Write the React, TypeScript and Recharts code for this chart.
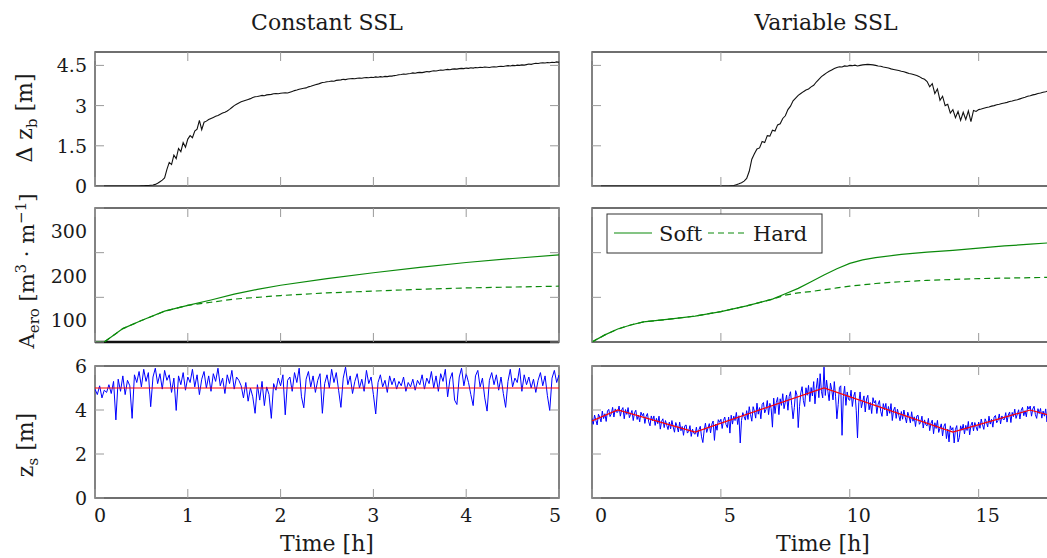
import { LineChart, Line, XAxis, YAxis, ReferenceArea, ReferenceLine } from "recharts";
import type { ReactNode } from "react";

// sampling of the simulation output (hours between samples)
const CONST_STEP = 0.025;
const VAR_STEP = 0.1;
const VAR_ZS_STEP = 0.05;

// bed level change, constant SSL run (0..5 h)
const constDzb = [
  0, 0, 0, 0, 0, 0, 0, 0, 0, 0, 0, 0, 0, 0, 0, 0, 0, 0, 0, 0,
  0.01, 0.01, 0.02, 0.02, 0.03, 0.04, 0.06, 0.1, 0.16, 0.22,
  0.3, 0.62, 0.88, 0.8, 1.15, 1.02, 1.4, 1.28, 1.62, 1.45,
  1.75, 1.88, 1.8, 2.05, 2.12, 2.45, 2.1, 2.38, 2.42, 2.48,
  2.52, 2.56, 2.6, 2.63, 2.68, 2.72, 2.75, 2.8, 2.86, 2.93,
  3.0, 3.05, 3.1, 3.14, 3.17, 3.2, 3.23, 3.26, 3.3, 3.33,
  3.34, 3.36, 3.38, 3.37, 3.4, 3.41, 3.42, 3.44, 3.45, 3.44,
  3.46, 3.47, 3.48, 3.47, 3.5, 3.53, 3.56, 3.58, 3.61, 3.63,
  3.65, 3.66, 3.7, 3.72, 3.75, 3.78, 3.8, 3.83, 3.86, 3.87,
  3.89, 3.9, 3.92, 3.91, 3.94, 3.95, 3.96, 3.98, 3.97, 3.99,
  4.0, 4.01, 4.0, 4.02, 4.03, 4.02, 4.04, 4.05, 4.04, 4.06,
  4.05, 4.07, 4.06, 4.08, 4.07, 4.09, 4.08, 4.1, 4.1, 4.12,
  4.13, 4.15, 4.16, 4.18, 4.17, 4.19, 4.2, 4.22, 4.21, 4.23,
  4.24, 4.23, 4.25, 4.27, 4.26, 4.28, 4.3, 4.29, 4.31, 4.33,
  4.32, 4.34, 4.35, 4.34, 4.36, 4.37, 4.36, 4.38, 4.39, 4.38,
  4.4, 4.39, 4.41, 4.4, 4.42, 4.41, 4.43, 4.42, 4.44, 4.43,
  4.42, 4.44, 4.45, 4.44, 4.46, 4.47, 4.46, 4.48, 4.49, 4.48,
  4.5, 4.49, 4.51, 4.5, 4.52, 4.51, 4.53, 4.55, 4.54, 4.56,
  4.58, 4.57, 4.59, 4.6, 4.59, 4.61, 4.6, 4.62, 4.61, 4.63,
  4.62,
];

// water surface, constant SSL run
const constZs = [
  4.95, 4.7, 5.1, 4.55, 4.9, 4.8, 5.15, 4.75, 5.3, 3.55,
  5.4, 4.85, 5.55, 4.7, 5.35, 5.1, 3.62, 5.6, 5.25, 5.75,
  5.05, 5.85, 5.3, 5.7, 4.15, 5.5, 5.9, 5.2, 5.65, 4.95,
  5.8, 5.35, 5.6, 4.8, 5.45, 3.98, 5.55, 5.15, 5.7, 4.9,
  5.5, 5.25, 5.85, 5.05, 5.6, 4.7, 5.4, 5.75, 5.0, 5.55,
  4.85, 5.65, 5.3, 5.9, 5.1, 5.45, 4.75, 5.6, 5.2, 5.8,
  4.95, 5.5, 5.35, 5.1, 4.55, 5.25, 4.4, 5.0, 4.6, 3.85,
  5.15, 4.45, 5.3, 4.2, 5.05, 4.7, 3.62, 5.2, 4.9, 5.45,
  5.1, 5.6, 3.78, 5.35, 5.5, 4.85, 5.7, 5.25, 5.9, 4.6,
  4.1, 5.4, 5.75, 5.05, 5.55, 4.8, 5.35, 5.65, 3.85, 5.2,
  5.6, 5.0, 5.85, 5.25, 5.7, 4.9, 4.12, 5.45, 5.95, 5.15,
  5.55, 4.75, 5.3, 5.65, 5.0, 5.4, 4.85, 5.8, 5.2, 5.5,
  4.7, 3.82, 5.25, 5.6, 5.05, 5.35, 4.8, 5.55, 5.15, 5.45,
  4.95, 5.3, 5.1, 5.5, 4.85, 5.25, 5.05, 5.4, 4.9, 5.35,
  5.15, 5.6, 4.95, 5.45, 5.2, 5.75, 5.0, 5.55, 4.85, 5.65,
  5.3, 5.85, 4.6, 5.4, 5.7, 4.45, 4.25, 5.5, 5.9, 5.1,
  5.65, 5.25, 4.7, 4.2, 5.55, 5.8, 5.05, 5.45, 4.55, 3.95,
  5.35, 5.7, 5.15, 5.6, 4.9, 5.5, 4.75, 4.12, 5.3, 5.85,
  5.05, 5.45, 5.25, 5.9, 4.85, 5.6, 5.15, 5.5, 5.0, 5.4,
  4.8, 5.35, 5.7, 5.1, 5.55, 4.65, 3.98, 5.45, 5.8, 5.25,
  5.6,
];

const constSslTime = [0, 5];
const constSslLevel = [5, 5];

// eroded area, constant SSL run
const constAeroTime = [0, 0.1, 0.3, 0.5, 0.75, 1, 1.25, 1.5, 1.75, 2, 2.5, 3, 3.5, 4, 4.5, 5];
const constAeroSoft = [0, 0, 30, 48, 69, 82, 94, 107, 118, 127, 142, 155, 167, 178, 187, 195];
const constAeroHard = [0, 0, 30, 48, 69, 82, 89, 96, 100, 104, 110, 114, 118, 121, 123, 125];

// bed level change, variable SSL run (0..18 h)
const varDzb = [
  0, 0, 0, 0, 0, 0, 0, 0, 0, 0, 0, 0, 0, 0, 0, 0, 0, 0, 0, 0,
  0, 0, 0, 0, 0, 0, 0, 0, 0, 0, 0, 0, 0, 0, 0, 0, 0, 0, 0, 0,
  0, 0, 0, 0, 0, 0, 0, 0, 0, 0, 0, 0, 0,
  0, 0.01, 0.02, 0.05, 0.08, 0.12, 0.18,
  0.28, 0.55, 1.0, 1.2, 1.38, 1.42, 1.66, 1.62, 1.88, 1.86,
  2.08, 2.05, 2.28, 2.32, 2.52, 2.62, 2.85, 2.98, 3.18, 3.28,
  3.38, 3.45, 3.52, 3.58, 3.62, 3.7, 3.76, 3.88, 3.98, 4.08,
  4.15, 4.22, 4.28, 4.33, 4.38, 4.42, 4.45, 4.44, 4.48, 4.47,
  4.5, 4.49, 4.51, 4.48, 4.5, 4.52, 4.53, 4.54, 4.53, 4.52,
  4.5, 4.48, 4.47, 4.44, 4.42, 4.4, 4.37, 4.35, 4.33, 4.31,
  4.28, 4.26, 4.23, 4.2, 4.18, 4.15, 4.12, 4.08, 4.02, 3.98,
  3.9, 3.7, 3.82, 3.45, 3.62, 3.2, 3.35, 3.0, 3.05, 2.72,
  2.85, 2.55, 2.78, 2.45, 2.75, 2.48, 2.8, 2.4, 2.82, 2.78,
  2.85, 2.87, 2.9, 2.93, 2.95, 2.98, 3.0, 3.03, 3.05, 3.08,
  3.1, 3.12, 3.15, 3.17, 3.2, 3.22, 3.25, 3.28, 3.31, 3.35,
  3.37, 3.4, 3.42, 3.45, 3.47, 3.5, 3.52, 3.55, 3.57, 3.6,
  3.62,
];

// water surface, variable SSL run (one row per hour)
const varZs = [
  3.62, 3.35, 3.77, 3.53, 3.32, 3.81, 3.67, 3.46, 3.95, 3.61, 3.83, 3.48, 3.95, 4.03, 3.7, 3.83, 4.12, 3.68, 4.05, 3.9,
  3.9, 4.18, 3.72, 4.0, 4.11, 3.6, 4.02, 3.8, 4.11, 3.65, 3.81, 3.98, 3.52, 3.88, 3.99, 3.57, 3.77, 3.46, 3.9, 3.74,
  3.85, 3.39, 3.71, 3.84, 3.46, 3.28, 3.73, 3.51, 3.73, 3.3, 3.62, 3.38, 3.72, 3.13, 3.49, 3.6, 3.2, 3.52, 3.31, 3.11,
  3.45, 3.14, 3.52, 3.23, 2.99, 3.43, 3.25, 3.0, 3.45, 3.06, 3.25, 2.85, 3.28, 3.32, 2.95, 3.03, 3.29, 2.8, 3.13, 2.94,
  2.9, 3.22, 2.79, 3.11, 3.26, 2.78, 2.52, 3.06, 3.4, 2.98, 3.18, 3.38, 2.96, 3.36, 3.5, 2.62, 3.36, 3.08, 3.56, 3.44,
  3.58, 3.16, 3.52, 3.68, 3.34, 3.2, 3.68, 2.95, 3.76, 3.36, 3.72, 3.52, 3.89, 3.34, 3.74, 2.5, 3.52, 3.88, 3.7, 3.54,
  3.97, 3.57, 4.15, 3.79, 3.49, 4.15, 3.95, 3.63, 4.31, 3.81, 4.11, 3.6, 4.25, 4.34, 3.87, 4.03, 4.43, 3.79, 4.3, 4.07,
  3.22, 4.54, 3.84, 4.34, 4.57, 3.79, 4.51, 4.21, 4.74, 4.06, 4.37, 4.68, 3.99, 4.62, 4.83, 4.21, 3.6, 4.12, 4.88, 4.68,
  3.2, 4.15, 4.78, 5.06, 4.43, 4.16, 5.01, 4.67, 5.12, 4.38, 5.02, 4.64, 5.29, 4.28, 4.99, 5.45, 4.56, 5.65, 4.85, 4.55,
  5.95, 4.66, 5.36, 4.85, 4.42, 5.22, 4.92, 4.46, 5.29, 4.6, 3.6, 4.24, 5.03, 5.1, 2.85, 4.61, 5.08, 4.21, 4.82, 4.48,
  4.44, 4.9, 4.16, 4.62, 4.81, 3.99, 2.73, 4.33, 4.82, 4.1, 4.37, 4.64, 3.91, 4.5, 4.67, 4.01, 4.34, 3.84, 4.56, 4.32,
  4.43, 3.84, 4.26, 4.43, 3.94, 3.71, 4.29, 4.01, 4.3, 3.73, 4.16, 3.85, 4.29, 3.52, 4.0, 4.13, 3.62, 4.04, 3.76, 3.51,
  3.93, 3.58, 4.0, 3.68, 3.41, 3.9, 3.7, 3.42, 3.92, 3.49, 3.69, 3.25, 3.73, 3.76, 3.35, 3.44, 3.72, 3.18, 3.55, 3.33,
  3.28, 3.62, 3.06, 3.4, 3.54, 2.92, 3.42, 3.16, 3.53, 2.98, 3.18, 3.37, 2.82, 3.26, 3.38, 2.7, 3.13, 2.55, 3.28, 3.09,
  3.2, 2.5, 3.12, 3.29, 2.55, 2.75, 3.28, 3.08, 3.35, 2.91, 3.3, 3.07, 3.48, 2.87, 3.3, 3.45, 3.05, 3.43, 3.23, 3.06,
  3.45, 3.17, 3.59, 3.33, 3.12, 3.6, 3.45, 3.23, 3.72, 3.36, 3.58, 3.22, 3.68, 3.75, 3.42, 3.53, 3.82, 3.37, 3.73, 3.57,
  3.57, 3.88, 3.45, 3.77, 3.91, 3.43, 3.89, 3.7, 4.04, 3.62, 3.81, 4.01, 3.59, 3.98, 4.12, 3.74, 3.97, 3.69, 4.17, 4.04,
  4.18, 3.72, 4.05, 4.17, 3.79, 3.62, 4.06, 3.84, 4.07, 3.63, 3.95, 3.72, 4.05, 3.46, 3.83, 3.93, 3.53, 3.86, 3.64, 3.44,
  3.8,
];

const varSslTime = [0, 1, 4, 9, 14, 17, 18];
const varSslLevel = [3.5, 4, 3, 5, 3, 4, 3.67];

// eroded area, variable SSL run
const varAeroTime = [0, 0.5, 1, 1.5, 2, 3, 4, 5, 6, 7, 7.5, 8, 8.5, 9, 9.5, 10, 10.5, 11, 12, 13, 14, 15, 16, 17, 18];
const varAeroSoft = [0, 16, 29, 38, 45, 51, 58, 68, 81, 96, 108, 120, 135, 150, 164, 176, 184, 189, 196, 201, 205, 210, 215, 219, 223];
const varAeroHard = [0, 16, 29, 38, 45, 51, 58, 68, 81, 96, 105, 110, 113, 117, 121, 125, 128, 131, 135, 138, 140, 142, 143, 144, 145];

const legendItems = [
  { name: "Soft", dash: undefined as string | undefined },
  { name: "Hard", dash: "6 4" },
];

const constTicks = [0, 1, 2, 3, 4, 5];
const varTicks = [0, 5, 10, 15];

const sampled = (vals: number[], step: number) =>
  vals.map((v, i) => ({ t: +(i * step).toFixed(3), v }));
const paired = (ts: number[], vals: number[]) => ts.map((t, i) => ({ t, v: vals[i] }));

const FONT = "'DejaVu Serif', serif";
const FRAME = "#404040";
const TICK_COLOR = "#9a9a9a";
const GREEN = "#0b8a0b";
const TICK = 9;
const ML = 70;
const MT = 14;
const MR = 4;
const MB = 34;

type PanelProps = {
  x: number;
  y: number;
  w: number;
  h: number;
  xDomain: [number, number];
  yDomain: [number, number];
  xTicks: number[];
  yTicks: number[];
  xLabels?: boolean;
  xShift?: (v: number) => number;
  yLabels?: number[];
  yShift?: number;
  children: ReactNode;
};

function Panel({ x, y, w, h, xDomain, yDomain, xTicks, yTicks, xLabels, xShift, yLabels, yShift = 0, children }: PanelProps) {
  const axisY = MT + h;
  const xTick = (p: any) => {
    const v = p.payload.value;
    const px = p.x;
    return (
      <g>
        <line x1={px} x2={px} y1={axisY} y2={axisY - TICK} stroke={TICK_COLOR} />
        <line x1={px} x2={px} y1={MT} y2={MT + TICK} stroke={TICK_COLOR} />
        {xLabels && (
          <text x={px + (xShift ? xShift(v) : 0)} y={axisY + 24} textAnchor="middle"
            fontFamily={FONT} fontSize={19} fill="#1a1a1a">{v}</text>
        )}
      </g>
    );
  };
  const yTick = (p: any) => {
    const v = p.payload.value;
    const py = p.y;
    return (
      <g>
        <line x1={ML} x2={ML + TICK} y1={py} y2={py} stroke={TICK_COLOR} />
        <line x1={ML + w - TICK} x2={ML + w} y1={py} y2={py} stroke={TICK_COLOR} />
        {yLabels && yLabels.includes(v) && (
          <text x={ML - 8} y={py + yShift + 7} textAnchor="end"
            fontFamily={FONT} fontSize={19} fill="#1a1a1a">{v}</text>
        )}
      </g>
    );
  };
  return (
    <div style={{ position: "absolute", left: x - ML, top: y - MT }}>
      <LineChart width={w + ML + MR} height={h + MT + MB} margin={{ top: MT, right: MR, left: 0, bottom: 0 }}>
        <XAxis type="number" dataKey="t" domain={xDomain} ticks={xTicks} allowDataOverflow interval={0}
          tick={xTick} tickLine={false} axisLine={false} tickSize={0} tickMargin={0} height={MB} />
        <YAxis type="number" domain={yDomain} ticks={yTicks} allowDataOverflow interval={0}
          tick={yTick} tickLine={false} axisLine={false} tickSize={0} tickMargin={0} width={ML} />
        {children}
        <ReferenceArea x1={xDomain[0]} x2={xDomain[1]} y1={yDomain[0]} y2={yDomain[1]}
          fill="none" fillOpacity={0} stroke={FRAME} strokeWidth={1.3} ifOverflow="visible" />
      </LineChart>
    </div>
  );
}

const L = { x: 95, w: 464 };
const R = { x: 592, w: 464 };
const ROW1 = { y: 52, h: 134 };
const ROW2 = { y: 208, h: 134 };
const ROW3 = { y: 366, h: 132 };

export default function App() {
  const sub = { fontSize: 15 };
  return (
    <div style={{ position: "absolute", left: 0, top: 0, width: 1047, height: 558, overflow: "hidden", background: "#fff" }}>
      {/* row 1: bed level change */}
      <Panel {...L} {...ROW1} xDomain={[0, 5]} yDomain={[0, 5]} xTicks={constTicks} yTicks={[0, 1.5, 3, 4.5]} yLabels={[0, 1.5, 3, 4.5]}>
        <Line data={sampled(constDzb, CONST_STEP)} dataKey="v" type="linear" dot={false} stroke="#111" strokeWidth={1.1} isAnimationActive={false} />
      </Panel>
      <Panel {...R} {...ROW1} xDomain={[0, 18]} yDomain={[0, 5]} xTicks={varTicks} yTicks={[0, 1.5, 3, 4.5]}>
        <Line data={sampled(varDzb, VAR_STEP)} dataKey="v" type="linear" dot={false} stroke="#111" strokeWidth={1.1} isAnimationActive={false} />
      </Panel>

      {/* row 2: eroded area */}
      <Panel {...L} {...ROW2} xDomain={[0, 5]} yDomain={[0, 300]} xTicks={constTicks} yTicks={[0, 100, 200, 300]} yLabels={[100, 200, 300]} yShift={23}>
        <ReferenceLine y={0} stroke="#111" strokeWidth={2.4} />
        <Line data={paired(constAeroTime, constAeroHard)} dataKey="v" type="linear" dot={false} stroke={GREEN} strokeWidth={1.2} strokeDasharray="6 4" isAnimationActive={false} />
        <Line data={paired(constAeroTime, constAeroSoft)} dataKey="v" type="linear" dot={false} stroke={GREEN} strokeWidth={1.2} isAnimationActive={false} />
      </Panel>
      <Panel {...R} {...ROW2} xDomain={[0, 18]} yDomain={[0, 300]} xTicks={varTicks} yTicks={[100, 200]}>
        <Line data={paired(varAeroTime, varAeroHard)} dataKey="v" type="linear" dot={false} stroke={GREEN} strokeWidth={1.2} strokeDasharray="6 4" isAnimationActive={false} />
        <Line data={paired(varAeroTime, varAeroSoft)} dataKey="v" type="linear" dot={false} stroke={GREEN} strokeWidth={1.2} isAnimationActive={false} />
      </Panel>

      {/* row 3: water surface */}
      <Panel {...L} {...ROW3} xDomain={[0, 5]} yDomain={[0, 6]} xTicks={constTicks} yTicks={[0, 2, 4, 6]} yLabels={[0, 2, 4, 6]}
        xLabels xShift={(v) => (v === 0 ? 5 : v === 5 ? -4 : 0)}>
        <Line data={sampled(constZs, CONST_STEP)} dataKey="v" type="linear" dot={false} stroke="#0000ff" strokeWidth={1} isAnimationActive={false} />
        <Line data={paired(constSslTime, constSslLevel)} dataKey="v" type="linear" dot={false} stroke="#ff0000" strokeWidth={1.2} isAnimationActive={false} />
      </Panel>
      <Panel {...R} {...ROW3} xDomain={[0, 18]} yDomain={[0, 6]} xTicks={varTicks} yTicks={[0, 2, 4, 6]} xLabels xShift={() => 9}>
        <Line data={sampled(varZs, VAR_ZS_STEP)} dataKey="v" type="linear" dot={false} stroke="#0000ff" strokeWidth={1} isAnimationActive={false} />
        <Line data={paired(varSslTime, varSslLevel)} dataKey="v" type="linear" dot={false} stroke="#ff0000" strokeWidth={1.2} isAnimationActive={false} />
      </Panel>

      <svg width={1047} height={558} style={{ position: "absolute", left: 0, top: 0, pointerEvents: "none" }}
        fontFamily={FONT} fill="#1a1a1a">
        <text x={327} y={30} textAnchor="middle" fontSize={22}>Constant SSL</text>
        <text x={826} y={30} textAnchor="middle" fontSize={22}>Variable SSL</text>
        <text x={327} y={551} textAnchor="middle" fontSize={22}>Time [h]</text>
        <text x={823} y={551} textAnchor="middle" fontSize={22}>Time [h]</text>

        <text transform="translate(32,118) rotate(-90)" textAnchor="middle" fontSize={22}>
          Δ z<tspan dy={5} {...sub}>b</tspan><tspan dy={-5}> [m]</tspan>
        </text>
        <text transform="translate(34,271) rotate(-90)" textAnchor="middle" fontSize={21}>
          A<tspan dy={5} {...sub}>ero</tspan><tspan dy={-5}> [m</tspan><tspan dy={-8} {...sub}>3</tspan>
          <tspan dy={8}> · m</tspan><tspan dy={-8} {...sub}>−1</tspan><tspan dy={8}>]</tspan>
        </text>
        <text transform="translate(33,445) rotate(-90)" textAnchor="middle" fontSize={22}>
          z<tspan dy={5} {...sub}>s</tspan><tspan dy={-5}> [m]</tspan>
        </text>

        <g>
          <rect x={607} y={214} width={215} height={39} fill="#fff" stroke="#333" strokeWidth={1} />
          {legendItems.map((it, i) => {
            const x0 = 614 + i * 94;
            return (
              <g key={it.name}>
                <line x1={x0} x2={x0 + 38} y1={233} y2={233} stroke={GREEN} strokeWidth={1.2} strokeDasharray={it.dash} />
                <text x={x0 + 45} y={241} fontSize={21}>{it.name}</text>
              </g>
            );
          })}
        </g>
      </svg>
    </div>
  );
}
